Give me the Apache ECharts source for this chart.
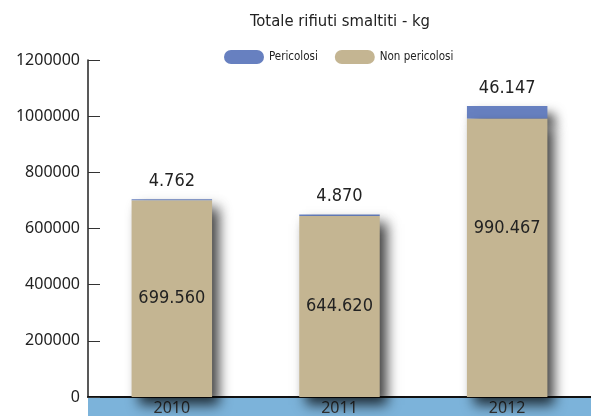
<!DOCTYPE html>
<html>
<head>
<meta charset="utf-8">
<script src="https://cdn.jsdelivr.net/npm/echarts@6/dist/echarts.min.js"></script>
<style>
  html, body { margin: 0; padding: 0; background: #fff; }
  #chart { width: 591px; height: 416px; }
</style>
</head>
<body>
<div id="chart"></div>
<script>
// Waste disposed per year, split into hazardous / non-hazardous (kg)
const years = ['2010', '2011', '2012'];
const pericolosi = [4762, 4870, 46147];
const nonPericolosi = [699560, 644620, 990467];
const yTicks = { min: 0, max: 1200000, interval: 200000 };

const NARROW = '"DejaVu Sans Condensed", "Liberation Sans Narrow", sans-serif';
const SANS = '"Noto Sans", sans-serif';

// Italian style thousands separator: 699560 -> 699.560
function fmt(v) {
  return String(v).replace(/\B(?=(\d{3})+(?!\d))/g, '.');
}

const pill = 'path://M7,0 H33 A7,7 0 0 1 33,14 H7 A7,7 0 0 1 7,0 Z';
const shadow = {
  shadowColor: 'rgba(0,0,0,0.75)',
  shadowBlur: 12,
  shadowOffsetX: 7,
  shadowOffsetY: 8
};

const chart = echarts.init(document.getElementById('chart'), null, { renderer: 'canvas' });
chart.setOption({
  animation: false,
  backgroundColor: '#ffffff',
  title: {
    text: 'Totale rifiuti smaltiti - kg',
    left: 250,
    top: 13,
    padding: 0,
    textStyle: { fontFamily: NARROW, fontSize: 16.5, fontWeight: 'normal', color: '#222' }
  },
  legend: {
    left: 224,
    top: 50,
    padding: 0,
    itemWidth: 40,
    itemHeight: 15,
    itemGap: 17,
    textStyle: { fontFamily: NARROW, fontSize: 11.5, color: '#222' },
    data: [
      { name: 'Pericolosi', icon: pill },
      { name: 'Non pericolosi', icon: pill }
    ]
  },
  grid: { left: 88, right: -3, top: 60, bottom: 19, containLabel: false },
  graphic: [{
    type: 'rect',
    z: -10,
    shape: { x: 88, y: 397, width: 503, height: 19 },
    style: { fill: '#7cb3da' }
  }],
  xAxis: {
    type: 'category',
    data: years,
    axisLine: { lineStyle: { color: '#111', width: 2 } },
    axisTick: { inside: true, length: 6, lineStyle: { color: '#888', width: 1.5 } },
    axisLabel: { fontFamily: SANS, fontSize: 16, color: '#333', margin: 3 }
  },
  yAxis: {
    type: 'value',
    min: yTicks.min,
    max: yTicks.max,
    interval: yTicks.interval,
    splitLine: { show: false },
    axisLine: { show: true, lineStyle: { color: '#222', width: 1.5 } },
    axisTick: { show: true, inside: true, length: 12, lineStyle: { color: '#333', width: 1 } },
    axisLabel: { fontFamily: SANS, fontSize: 16, color: '#222', margin: 8, formatter: v => String(v) }
  },
  series: [
    {
      name: 'Non pericolosi',
      type: 'bar',
      stack: 'tot',
      barWidth: '48%',
      z: 3,
      data: nonPericolosi.map((v, i) => i === 2 ? { value: v, label: { offset: [0, -30] } } : v),
      itemStyle: Object.assign({ color: '#c4b592' }, shadow),
      label: {
        show: true,
        position: 'inside',
        formatter: p => fmt(p.value),
        fontFamily: NARROW,
        fontSize: 18,
        color: '#222'
      }
    },
    {
      name: 'Pericolosi',
      type: 'bar',
      stack: 'tot',
      barWidth: '48%',
      z: 2,
      data: pericolosi,
      itemStyle: Object.assign({ color: '#6780c0' }, shadow),
      label: {
        show: true,
        position: 'top',
        distance: 9,
        formatter: p => fmt(p.value),
        fontFamily: NARROW,
        fontSize: 18,
        color: '#222'
      }
    }
  ]
});
</script>
</body>
</html>
